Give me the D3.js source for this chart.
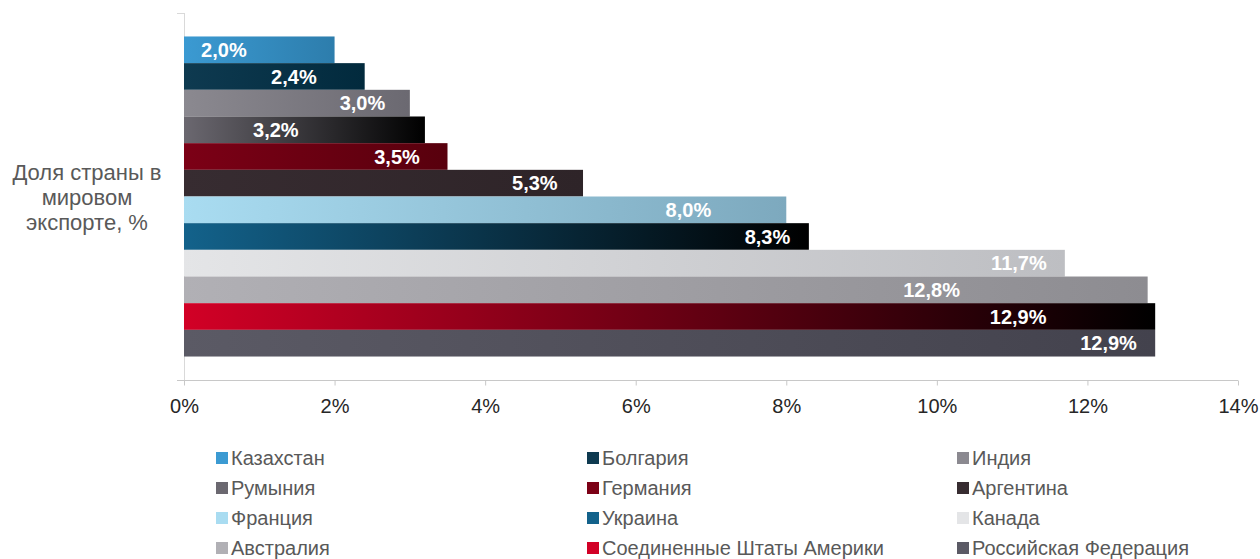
<!DOCTYPE html>
<html>
<head>
<meta charset="utf-8">
<script src="https://cdn.jsdelivr.net/npm/d3@7"></script>
<style>
   body { margin: 0; background: #fff; }
   svg { display: block; font-family: 'Liberation Sans', Arial, sans-serif; }
   .bar-label { fill: #fff; font-weight: bold; font-size: 20px; }
   .tick-label { fill: #262626; font-size: 20px; }
   .legend-text { fill: #595959; font-size: 20px; }
   .y-title { fill: #595959; font-size: 22px; }
</style>
</head>
<body>
<div id="chart"></div>
<script>
// data
const countries = ['Казахстан', 'Болгария', 'Индия', 'Румыния', 'Германия', 'Аргентина',
   'Франция', 'Украина', 'Канада', 'Австралия', 'Соединенные Штаты Америки', 'Российская Федерация'];
const shares = [2.0, 2.4, 3.0, 3.2, 3.5, 5.3, 8.0, 8.3, 11.7, 12.8, 12.9, 12.9];
// where the label sits along the bar, in % units
const labelAt = [0.53, 1.46, 2.37, 1.22, 2.83, 4.66, 6.70, 7.75, 11.09, 9.93, 11.08, 12.28];
const xTicks = [0, 2, 4, 6, 8, 10, 12, 14];
const yTitle = ['Доля страны в', 'мировом', 'экспорте, %'];

// gradient start / end colours per series
const gradFrom = ['#3b9ad2', '#0e3a50', '#8b8990', '#6b6870', '#7c0016', '#372c31',
   '#a9dcf1', '#13628b', '#e4e5e7', '#b1b0b5', '#d20026', '#5b5a65'];
const gradTo = ['#2d7dac', '#022a3d', '#6b6971', '#000000', '#58000d', '#2e2428',
   '#7da9be', '#000000', '#bdbec2', '#8d8c91', '#000000', '#43424d'];

const width = 1260, height = 559;

const svg = d3.select('#chart').append('svg')
   .attr('width', width)
   .attr('height', height);

const defs = svg.append('defs');
countries.forEach((c, i) => {
   const g = defs.append('linearGradient')
      .attr('id', 'grad' + i)
      .attr('x1', '0%').attr('x2', '100%')
      .attr('y1', '0%').attr('y2', '0%');
   g.append('stop').attr('offset', '0%').attr('stop-color', gradFrom[i]);
   g.append('stop').attr('offset', '100%').attr('stop-color', gradTo[i]);
});

const x = d3.scaleLinear()
   .domain([0, 14])
   .range([184, 1238]);

const y = d3.scaleBand()
   .domain(countries)
   .range([13, 380])
   .paddingInner(0)
   .paddingOuter(0.88);

// axis frame
const axisColor = '#c8c8c8';
svg.append('line')
   .attr('x1', x(0) + 0.5).attr('x2', x(0) + 0.5)
   .attr('y1', 13).attr('y2', 385)
   .attr('stroke', '#d9d9d9');
svg.append('line')
   .attr('x1', 177).attr('x2', x(0))
   .attr('y1', 13.5).attr('y2', 13.5)
   .attr('stroke', '#d9d9d9');

const xAxis = d3.axisBottom(x)
   .tickValues(xTicks)
   .tickSize(5)
   .tickFormat(d => d + '%');

const axisG = svg.append('g')
   .attr('transform', 'translate(0,380.5)')
   .call(xAxis);
axisG.select('.domain')
   .attr('d', `M177,0H${x(14)}`)
   .attr('stroke', axisColor);
axisG.selectAll('.tick line').attr('stroke', axisColor);
axisG.selectAll('.tick text')
   .attr('class', 'tick-label')
   .attr('dy', null)
   .attr('y', 32)
   .attr('font-family', null)
   .attr('font-size', null);

// bars
svg.append('g')
   .selectAll('rect')
   .data(shares)
   .join('rect')
      .attr('x', x(0))
      .attr('y', (d, i) => y(countries[i]))
      .attr('width', d => x(d) - x(0))
      .attr('height', y.bandwidth())
      .attr('fill', (d, i) => `url(#grad${i})`);

svg.append('g')
   .selectAll('text')
   .data(shares)
   .join('text')
      .attr('class', 'bar-label')
      .attr('x', (d, i) => x(labelAt[i]))
      .attr('y', (d, i) => y(countries[i]) + y.bandwidth() / 2)
      .attr('dy', '0.36em')
      .attr('text-anchor', 'middle')
      .text(d => d.toFixed(1).replace('.', ',') + '%');

// y title
svg.append('text')
   .attr('class', 'y-title')
   .attr('text-anchor', 'middle')
   .selectAll('tspan')
   .data(yTitle)
   .join('tspan')
      .attr('x', 87)
      .attr('y', (d, i) => 180 + i * 25)
      .text(d => d);

// legend: 3 columns, 4 rows
const colX = [216, 587, 957];
const rowY = [458, 488, 518, 548];
const legend = svg.append('g')
   .selectAll('g')
   .data(countries)
   .join('g')
      .attr('transform', (d, i) => `translate(${colX[i % 3]},${rowY[Math.floor(i / 3)]})`);

legend.append('rect')
   .attr('x', 0).attr('y', -6)
   .attr('width', 12).attr('height', 12)
   .attr('fill', (d, i) => gradFrom[i]);

legend.append('text')
   .attr('class', 'legend-text')
   .attr('x', 15)
   .attr('dy', '0.36em')
   .text(d => d);
</script>
</body>
</html>
